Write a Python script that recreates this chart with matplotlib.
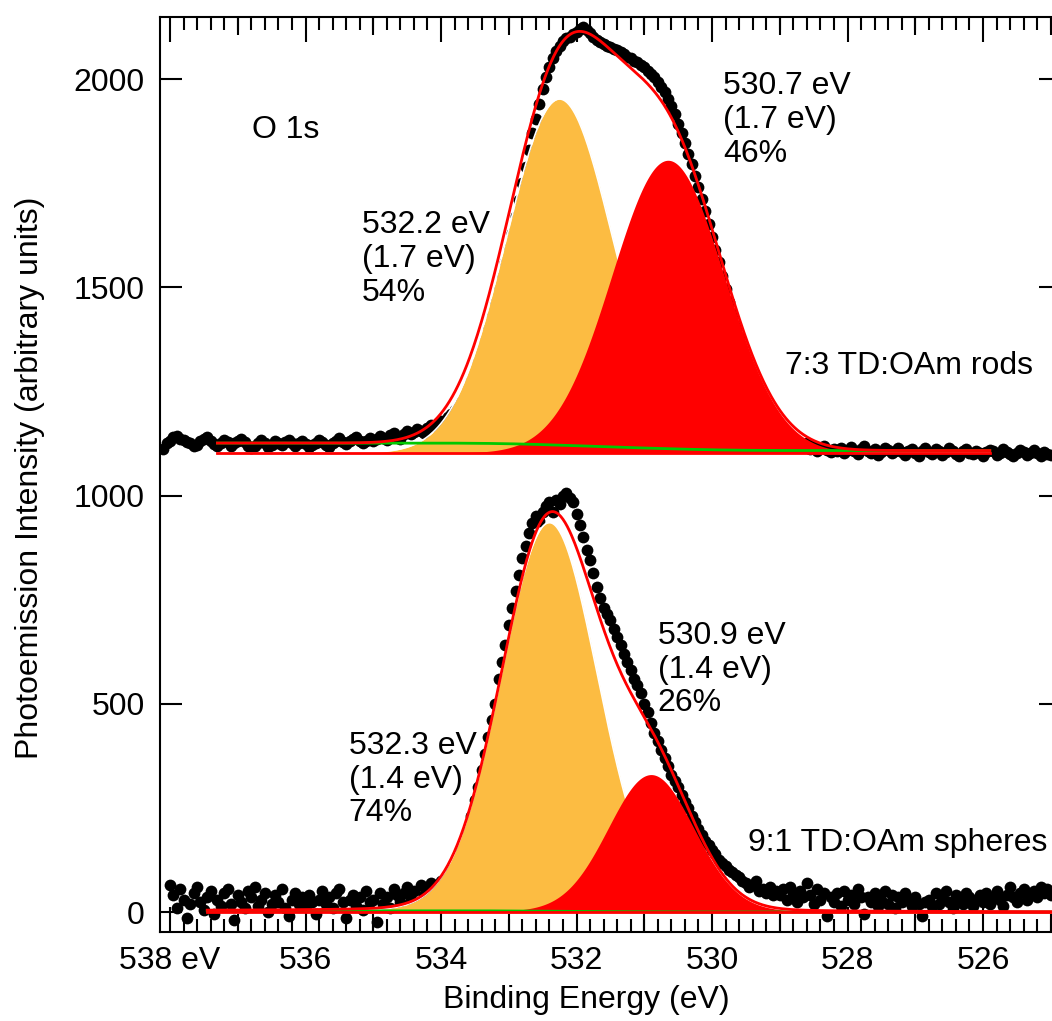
import numpy as np
import matplotlib
matplotlib.use('Agg')
import matplotlib.pyplot as plt
from matplotlib.ticker import MultipleLocator, FixedLocator, NullFormatter

plt.rcParams['font.family'] = ['Liberation Sans', 'DejaVu Sans']

# ---------------- data ----------------
rods_be = np.linspace(538.1, 525.0, 263)
rods_int = [
    1112, 1125, 1132, 1140, 1142, 1136, 1133, 1128, 1125, 1118, 1122, 1130, 1135, 1140, 1130, 1124, 1118, 1125, 1133, 1128,
    1120, 1126, 1131, 1136, 1128, 1118, 1114, 1120, 1127, 1133, 1125, 1116, 1122, 1130, 1126, 1121, 1128, 1134, 1127, 1120,
    1125, 1131, 1123, 1116, 1121, 1127, 1133, 1129, 1122, 1117, 1126, 1132, 1137, 1128, 1124, 1130, 1135, 1140, 1131, 1126,
    1132, 1138, 1130, 1135, 1142, 1138, 1133, 1145, 1150, 1141, 1136, 1148, 1155, 1147, 1152, 1160, 1156, 1150, 1163, 1170,
    1166, 1174, 1180, 1176, 1188, 1195, 1205, 1212, 1225, 1240, 1255, 1275, 1295, 1320, 1345, 1372, 1400, 1430, 1462, 1495,
    1525, 1560, 1595, 1630, 1670, 1710, 1750, 1790, 1830, 1870, 1905, 1940, 1975, 2005, 2030, 2050, 2068, 2080, 2092, 2098,
    2102, 2108, 2112, 2120, 2126, 2118, 2110, 2100, 2094, 2088, 2085, 2080, 2076, 2072, 2070, 2066, 2060, 2054, 2050, 2044,
    2040, 2034, 2028, 2020, 2012, 2004, 1994, 1982, 1968, 1952, 1935, 1915, 1893, 1870, 1846, 1820, 1795, 1768, 1740, 1712,
    1682, 1652, 1620, 1590, 1560, 1528, 1495, 1465, 1436, 1405, 1378, 1350, 1325, 1300, 1278, 1257, 1236, 1218, 1200, 1186,
    1175, 1165, 1155, 1147, 1140, 1133, 1130, 1124, 1120, 1116, 1126, 1112, 1118, 1108, 1115, 1120, 1110, 1104, 1112, 1108,
    1114, 1102, 1109, 1116, 1106, 1100, 1111, 1118, 1107, 1103, 1112, 1098, 1105, 1113, 1109, 1101, 1107, 1115, 1104, 1098,
    1106, 1112, 1102, 1096, 1108, 1115, 1105, 1100, 1111, 1106, 1098, 1104, 1113, 1108, 1100, 1095, 1106, 1112, 1103, 1099,
    1108, 1102, 1095, 1104, 1110, 1106, 1098, 1103, 1112, 1105, 1099, 1094, 1102, 1109, 1104, 1097, 1103, 1110, 1101, 1096,
    1104, 1100, 1098]

spheres_be = np.linspace(538.0, 525.0, 261)
spheres_int = [
    65, 40, 10, 55, 30, -15, 20, 45, 60, 25, 5, 35, 50, -5, 30, 15, 45, 55, 20, -20,
    40, 25, 10, 50, 35, 60, 15, 30, 45, 0, 20, 40, 25, 55, 10, -10, 30, 45, 20, 35,
    15, 40, 25, -5, 30, 50, 20, 35, 10, 45, 55, 25, -15, 30, 40, 15, 35, 5, 50, 25,
    30, -25, 45, 20, 35, 10, 55, 40, 25, 45, 60, 30, 50, 20, 65, 40, 55, 70, 45, 60,
    75, 60, 85, 100, 90, 120, 150, 140, 190, 230, 270, 300, 340, 380, 420, 460, 500, 560, 600, 640,
    690, 730, 770, 810, 850, 880, 910, 935, 950, 940, 960, 975, 985, 960, 990, 980, 1000, 1005, 995, 985,
    955, 930, 900, 870, 845, 815, 780, 755, 730, 715, 700, 680, 660, 640, 620, 600, 580, 560, 545, 525,
    500, 480, 455, 430, 410, 390, 370, 350, 330, 315, 300, 280, 265, 250, 230, 215, 200, 185, 170, 160,
    150, 140, 125, 118, 110, 100, 95, 90, 85, 75, 70, 60, 65, 75, 50, 55, 45, 60, 40, 50,
    40, 55, 30, 60, 45, 25, 50, 35, 70, 40, 20, 55, 30, 45, -10, 35, 25, 45, 15, 50,
    30, 40, 20, 55, 35, -5, 35, 25, 45, 15, 30, 50, 20, 40, 10, 35, 25, 45, 30, 15,
    35, 20, -10, 25, 30, 15, 45, 20, 35, 50, 25, 10, 40, 30, 20, 45, 35, 15, 30, 40,
    25, 45, 20, 35, 50, 30, 15, 40, 60, 35, 25, 45, 55, 30, 40, 50, 35, 60, 45, 55,
    40]

# fit components: centre (eV), FWHM (eV), height, Lorentzian fraction
rods_centers = [532.25, 530.65]
rods_fwhm = [1.85, 1.95]
rods_height = [850, 703]
rods_mix = [0.0, 0.0]
rods_base = 1102
rods_bkg = [1126, 1108]          # high-BE, low-BE background levels
rods_range = [537.3, 525.9]

sph_centers = [532.4, 530.9]
sph_fwhm = [1.68, 1.5]
sph_height = [935, 330]
sph_mix = [0.05, 0.05]
sph_base = 0
sph_bkg = [3, 0]
sph_range = [537.45, 524.85]

# annotation texts
rods_labels = ["532.2 eV\n(1.7 eV)\n54%", "530.7 eV\n(1.7 eV)\n46%", "7:3 TD:OAm rods"]
sph_labels = ["532.3 eV\n(1.4 eV)\n74%", "530.9 eV\n(1.4 eV)\n26%", "9:1 TD:OAm spheres"]
core_label = "O 1s"

x_major = [538, 536, 534, 532, 530, 528, 526]
x_major_labels = ["538 eV", "536", "534", "532", "530", "528", "526"]
y_major = [0, 500, 1000, 1500, 2000]

ORANGE = '#FCBC42'
RED = '#FF0000'
GREEN = '#00C800'


def gl(x, c, w, h, m):
    g = np.exp(-4 * np.log(2) * (x - c) ** 2 / w ** 2)
    l = 1.0 / (1 + 4 * (x - c) ** 2 / w ** 2)
    return h * ((1 - m) * g + m * l)


def shirley(x, total, hi, lo):
    xr = x[::-1]
    tr = total[::-1]
    cum = np.concatenate([[0], np.cumsum(0.5 * (tr[1:] + tr[:-1]) * np.diff(xr))])
    frac = cum / cum[-1]
    return (lo + (hi - lo) * frac)[::-1]


fig = plt.figure(figsize=(10.52, 10.21), dpi=100)
L, R, B, T = 160, 1061, 932, 17
ax = fig.add_axes([L / 1052, 1 - B / 1021, (R - L) / 1052, (B - T) / 1021])

# medium ticks at odd integers (twin axis), created first
ax2 = ax.twiny()


def draw_set(be, inten, centers, fwhm, height, mix, base, bkg, rng):
    ax.scatter(be, inten, s=72, color='black', zorder=2, linewidths=0)
    x = np.linspace(rng[0], rng[1], 800)
    comps = [gl(x, c, w, h, m) for c, w, h, m in zip(centers, fwhm, height, mix)]
    tot = comps[0] + comps[1]
    bg = shirley(x, tot, bkg[0], bkg[1])
    ax.fill_between(x, base, base + comps[0], color=ORANGE, lw=0, zorder=3)
    ax.plot(x, base + comps[0], color='white', lw=1.2, zorder=3.5)
    ax.fill_between(x, base, base + comps[1], color=RED, lw=0, zorder=4)
    ax.plot(x, bg, color=GREEN, lw=2, zorder=5)
    ax.plot(x, np.full_like(x, base), color=RED, lw=2, zorder=5.5)
    ax.plot(x, bg + tot, color=RED, lw=2, zorder=6)


draw_set(rods_be, rods_int, rods_centers, rods_fwhm, rods_height, rods_mix,
         rods_base, rods_bkg, rods_range)
draw_set(spheres_be, spheres_int, sph_centers, sph_fwhm, sph_height, sph_mix,
         sph_base, sph_bkg, sph_range)

fs = 23
kw = dict(fontsize=fs, ha='left', va='top', linespacing=1.16, zorder=10)
ax.text(536.79, 1877, core_label, fontsize=fs, ha='left', va='center')
ax.text(535.17, 1685, rods_labels[0], **kw)
ax.text(529.84, 2019, rods_labels[1], **kw)
ax.text(528.92, 1311, rods_labels[2], fontsize=fs, ha='left', va='center')
ax.text(530.8, 699, sph_labels[1], **kw)
ax.text(535.36, 435, sph_labels[0], **kw)
ax.text(529.47, 166, sph_labels[2], fontsize=fs, ha='left', va='center')

ax.set_xlim(538 + (170 - L) / 67.75, 538 - (R - 170) / 67.75)
ax.set_ylim(-48, 2149)

ax.xaxis.set_major_locator(FixedLocator(x_major))
ax.set_xticklabels(x_major_labels)
ax.xaxis.set_minor_locator(MultipleLocator(0.2))
ax.yaxis.set_major_locator(FixedLocator(y_major))
ax.yaxis.set_minor_locator(FixedLocator([]))

for s in ax.spines.values():
    s.set_linewidth(1.5)

ax.tick_params(axis='x', which='major', direction='in', length=18, width=1.5,
               top=True, bottom=True, labeltop=False, labelbottom=True,
               labelsize=fs, pad=10)
ax.tick_params(axis='x', which='minor', direction='in', length=9.5, width=1.5,
               top=True, bottom=True)
ax.tick_params(axis='y', which='major', direction='in', length=16, width=1.5,
               left=True, right=True, labelsize=fs, pad=11)

ax2.set_xlim(ax.get_xlim())
ax2.xaxis.set_major_locator(FixedLocator([537, 535, 533, 531, 529, 527, 525]))
ax2.xaxis.set_minor_locator(FixedLocator([]))
ax2.xaxis.set_major_formatter(NullFormatter())
ax2.tick_params(axis='x', which='major', direction='in', length=13, width=1.5,
                top=True, bottom=True, labeltop=False, labelbottom=False)
ax2.tick_params(axis='y', left=False, right=False, labelleft=False, labelright=False)
for s in ax2.spines.values():
    s.set_visible(False)
ax2.patch.set_visible(False)

ax.set_xlabel("Binding Energy (eV)", fontsize=fs)
ax.xaxis.set_label_coords((586.5 - L) / (R - L), -(1000 - B) / (B - T))
ax.set_ylabel("Photoemission Intensity (arbitrary units)", fontsize=fs)
ax.yaxis.set_label_coords(-(L - 30) / (R - L), 1 - (478 - T) / (B - T))
ax.xaxis.label.set_va('center')
ax.yaxis.label.set_va('center')

fig.savefig('out.png', dpi=100)
